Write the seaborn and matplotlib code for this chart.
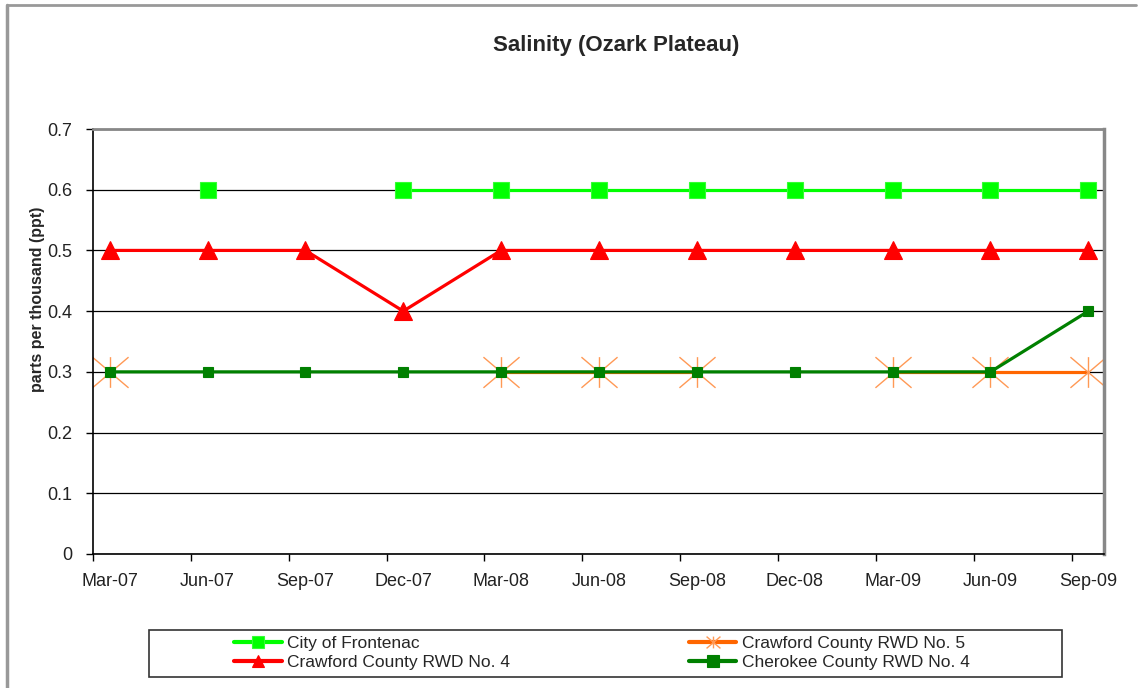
import numpy as np
import pandas as pd
import matplotlib
matplotlib.use("Agg")
import matplotlib.pyplot as plt
import seaborn as sns
from matplotlib.path import Path
from matplotlib.lines import Line2D

# quarterly sample labels
dates = ['Mar-07', 'Jun-07', 'Sep-07', 'Dec-07', 'Mar-08', 'Jun-08',
         'Sep-08', 'Dec-08', 'Mar-09', 'Jun-09', 'Sep-09']

# salinity values (ppt), NaN = no sample
frontenac = [np.nan, 0.6, np.nan, 0.6, 0.6, 0.6, 0.6, 0.6, 0.6, 0.6, 0.6]
crawford4 = [0.5, 0.5, 0.5, 0.4, 0.5, 0.5, 0.5, 0.5, 0.5, 0.5, 0.5]
crawford5 = [0.3, np.nan, np.nan, np.nan, 0.3, 0.3, 0.3, np.nan, 0.3, 0.3, 0.3]
cherokee = [0.3, 0.3, 0.3, 0.3, 0.3, 0.3, 0.3, 0.3, 0.3, 0.3, 0.4]

names = ['City of Frontenac', 'Crawford County RWD No. 4',
         'Crawford County RWD No. 5', 'Cherokee County RWD No. 4']

# excel style asterisk: X plus vertical bar
star = Path([(0, -0.85), (0, 0.85), (-1, -0.85), (1, 0.85), (-1, 0.85), (1, -0.85)],
            [Path.MOVETO, Path.LINETO, Path.MOVETO, Path.LINETO, Path.MOVETO, Path.LINETO])

styles = [
    dict(color='#00FF00', marker='s', ms=12, mec='#33FF33', mfc='#00FF00', mew=0.8),
    dict(color='#FF0000', marker='^', ms=13, mec='#FF0000', mfc='#FF0000', mew=0.8),
    dict(color='#FF6600', marker=star, ms=26, mec='#FF9955', mfc='none', mew=1.0),
    dict(color='#008000', marker='s', ms=7, mec='#008000', mfc='#008000', mew=0.8),
]
legend_ms = [8, 9, 10, 8]


def draw_series(ax, values, style):
    df = pd.DataFrame({'x': np.arange(len(dates)), 'y': values})
    # break the line where a sample is missing
    df['seg'] = df['y'].isna().cumsum()
    df = df.dropna()
    sns.lineplot(data=df, x='x', y='y', units='seg', estimator=None,
                 lw=2.3, legend=False, ax=ax, **style)


sns.set_theme(style='white')
plt.rcParams['font.family'] = ['Liberation Sans', 'DejaVu Sans']

fig = plt.figure(figsize=(11.38, 6.88), dpi=100)
ax = fig.add_axes([93 / 1138, 1 - 554 / 688, (1104 - 93) / 1138, (554 - 129) / 688])

for vals, st in zip([frontenac, crawford4, crawford5, cherokee], styles):
    draw_series(ax, vals, st)

ax.set_xlim(-0.17, 10.16)
ax.set_ylim(0, 0.7)
ax.set_yticks(np.arange(0, 0.71, 0.1))
ax.set_yticklabels(['0', '0.1', '0.2', '0.3', '0.4', '0.5', '0.6', '0.7'])
ax.yaxis.grid(True, color='black', lw=0.9)
ax.xaxis.grid(False)
ax.set_axisbelow(True)

# ticks between samples, labels under the samples
ax.set_xticks(np.arange(len(dates)) - 0.17)
ax.set_xticklabels([])
ax.set_xticks(np.arange(len(dates)), minor=True)
ax.set_xticklabels(dates, minor=True)
ax.tick_params(axis='x', which='major', direction='out', length=5, width=1, color='black', bottom=True)
ax.tick_params(axis='x', which='minor', length=0, pad=14, labelsize=13, labelcolor='#222222')
ax.tick_params(axis='y', direction='out', length=5, width=1, color='black', left=True,
               pad=10, labelsize=13, labelcolor='#222222')
ax.set_xlabel('')
ax.set_ylabel('')

for s in ['left', 'bottom']:
    ax.spines[s].set_color('black')
    ax.spines[s].set_linewidth(1.2)
ax.spines['top'].set_color('#888888')
ax.spines['top'].set_linewidth(2)
ax.spines['right'].set_color('#888888')
ax.spines['right'].set_linewidth(2.5)

fig.text(616 / 1138, 1 - 46 / 688, 'Salinity (Ozark Plateau)', ha='center', va='center',
         fontsize=16, fontweight='bold')
fig.text(38 / 1138, 1 - 299 / 688, 'parts per thousand (ppt)', ha='center', va='center',
         rotation=90, fontsize=11.5, fontweight='bold')

# legend inside a plain box
handles = []
for st, lms in zip(styles, legend_ms):
    h = dict(st)
    h['ms'] = lms
    handles.append(Line2D([], [], lw=3, **h))
fig.patches.append(plt.Rectangle((149 / 1138, 1 - 677 / 688), (1062 - 149) / 1138, 47 / 688,
                                 transform=fig.transFigure, fill=False, ec='#333333', lw=1.2))
fig.legend(handles, names, ncol=2, loc='center left', frameon=False,
           bbox_to_anchor=(218 / 1138, 1 - 653 / 688), fontsize=12.5,
           handlelength=2.76, handletextpad=0.3, columnspacing=10.3, labelspacing=0.2)

# outer chart border
fig.add_artist(Line2D([7 / 1138, 7 / 1138], [0, 1 - 5 / 688], transform=fig.transFigure,
                      color='#999999', lw=2.5))
fig.add_artist(Line2D([7 / 1138, 1136 / 1138], [1 - 5 / 688, 1 - 5 / 688], transform=fig.transFigure,
                      color='#999999', lw=2))

fig.savefig('out.png', dpi=100)
